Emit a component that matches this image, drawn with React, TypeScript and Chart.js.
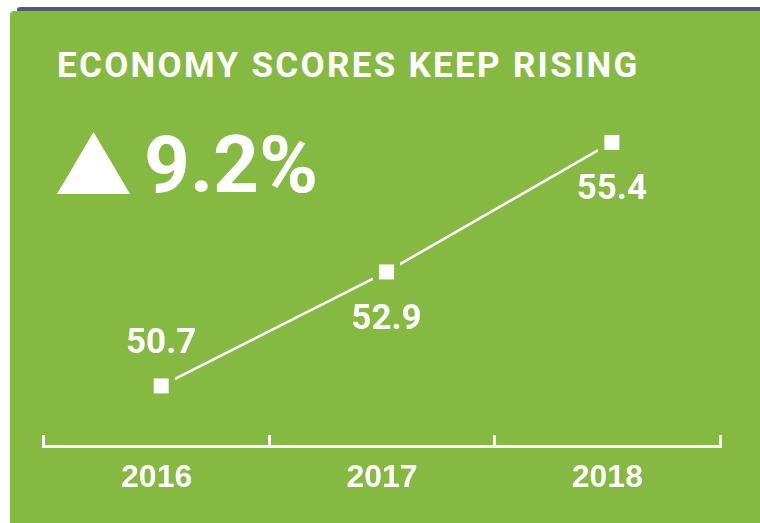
import React, { useEffect, useRef } from 'react';
import { Chart, registerables } from 'chart.js';

Chart.register(...registerables);

const years = ['2016', '2017', '2018'];
const scores = [50.7, 52.9, 55.4];
const labelSides = ['above', 'below', 'below'];
const titleText = 'ECONOMY SCORES KEEP RISING';
const changeText = '9.2%';

const GREEN = '#86b942';

function makeMarker(): HTMLCanvasElement {
  const c = document.createElement('canvas');
  c.width = 27;
  c.height = 27;
  const ctx = c.getContext('2d')!;
  ctx.fillStyle = GREEN;
  ctx.fillRect(0, 0, 27, 27);
  ctx.fillStyle = '#ffffff';
  ctx.fillRect(6, 6, 15, 15);
  return c;
}

const valueLabels = {
  id: 'valueLabels',
  afterDatasetsDraw(chart: any) {
    const meta = chart.getDatasetMeta(0);
    const ctx = chart.ctx;
    ctx.save();
    ctx.fillStyle = '#ffffff';
    ctx.font = 'bold 35px Roboto';
    ctx.textAlign = 'center';
    ctx.textBaseline = 'alphabetic';
    meta.data.forEach((pt: any, i: number) => {
      const above = labelSides[i] === 'above';
      ctx.fillText(scores[i].toFixed(1), pt.x, pt.y + (above ? -33 : 57));
    });
    ctx.restore();
  },
};

export default function App() {
  const ref = useRef<HTMLCanvasElement | null>(null);

  useEffect(() => {
    if (!ref.current) return;
    const marker = makeMarker();
    const chart = new Chart(ref.current, {
      type: 'line',
      data: {
        labels: years,
        datasets: [
          {
            data: scores.map((v, i) => ({ x: i, y: v })),
            xAxisID: 'x2',
            yAxisID: 'y',
            borderColor: '#ffffff',
            borderWidth: 2.5,
            pointStyle: marker as any,
            pointRadius: 13,
            pointHoverRadius: 13,
            fill: false,
            tension: 0,
          },
        ],
      },
      options: {
        animation: false,
        responsive: false,
        maintainAspectRatio: false,
        events: [],
        layout: { padding: { left: 44, right: 40, top: 60, bottom: 0 } },
        plugins: { legend: { display: false }, tooltip: { enabled: false }, title: { display: false } },
        scales: {
          x: {
            type: 'category',
            position: 'bottom',
            offset: true,
            grid: {
              offset: true,
              drawOnChartArea: false,
              drawTicks: true,
              tickLength: -11,
              color: '#ffffff',
              lineWidth: 3,
            },
            border: { display: true, color: '#ffffff', width: 3 },
            ticks: {
              color: '#ffffff',
              font: { family: 'Liberation Sans', size: 32, weight: 'bold' },
              padding: 24,
            },
            afterFit: (s: any) => {
              s.height = 77;
            },
          },
          x2: { type: 'linear', display: false, min: -0.52, max: 2.48 },
          y: { type: 'linear', display: false, min: 49.54, max: 56.99 },
        },
      },
      plugins: [valueLabels],
    } as any);
    return () => chart.destroy();
  }, []);

  return (
    <div
      style={{
        position: 'fixed',
        left: 0,
        top: 0,
        width: '100vw',
        height: '100vh',
        minWidth: 760,
        minHeight: 523,
        background: '#ffffff',
        overflow: 'hidden',
      }}
    >
      <div style={{ position: 'absolute', left: 17, top: 7, right: 0, height: 5, background: '#545d68', borderTopLeftRadius: 3 }} />
      <div style={{ position: 'absolute', left: 10, top: 11, right: 0, bottom: 0, background: GREEN, borderTopLeftRadius: 4 }} />
      <div
        style={{
          position: 'absolute',
          left: 57,
          top: 47.5,
          color: '#ffffff',
          fontFamily: 'Roboto',
          fontWeight: 'bold',
          fontSize: 35,
          lineHeight: '35px',
          letterSpacing: '2.3px',
          whiteSpace: 'nowrap',
        }}
      >
        {titleText}
      </div>
      <div
        style={{
          position: 'absolute',
          left: 57,
          top: 132,
          width: 73,
          height: 62,
          background: '#ffffff',
          clipPath: 'polygon(50% 0, 100% 100%, 0 100%)',
        }}
      />
      <div
        style={{
          position: 'absolute',
          left: 144,
          top: 124.7,
          color: '#ffffff',
          fontFamily: 'Roboto',
          fontWeight: 'bold',
          fontSize: 80,
          lineHeight: '80px',
          whiteSpace: 'nowrap',
        }}
      >
        {changeText}
      </div>
      <canvas ref={ref} width={760} height={523} style={{ position: 'absolute', left: 0, top: 0, width: 760, height: 523, display: 'block' }} />
    </div>
  );
}
